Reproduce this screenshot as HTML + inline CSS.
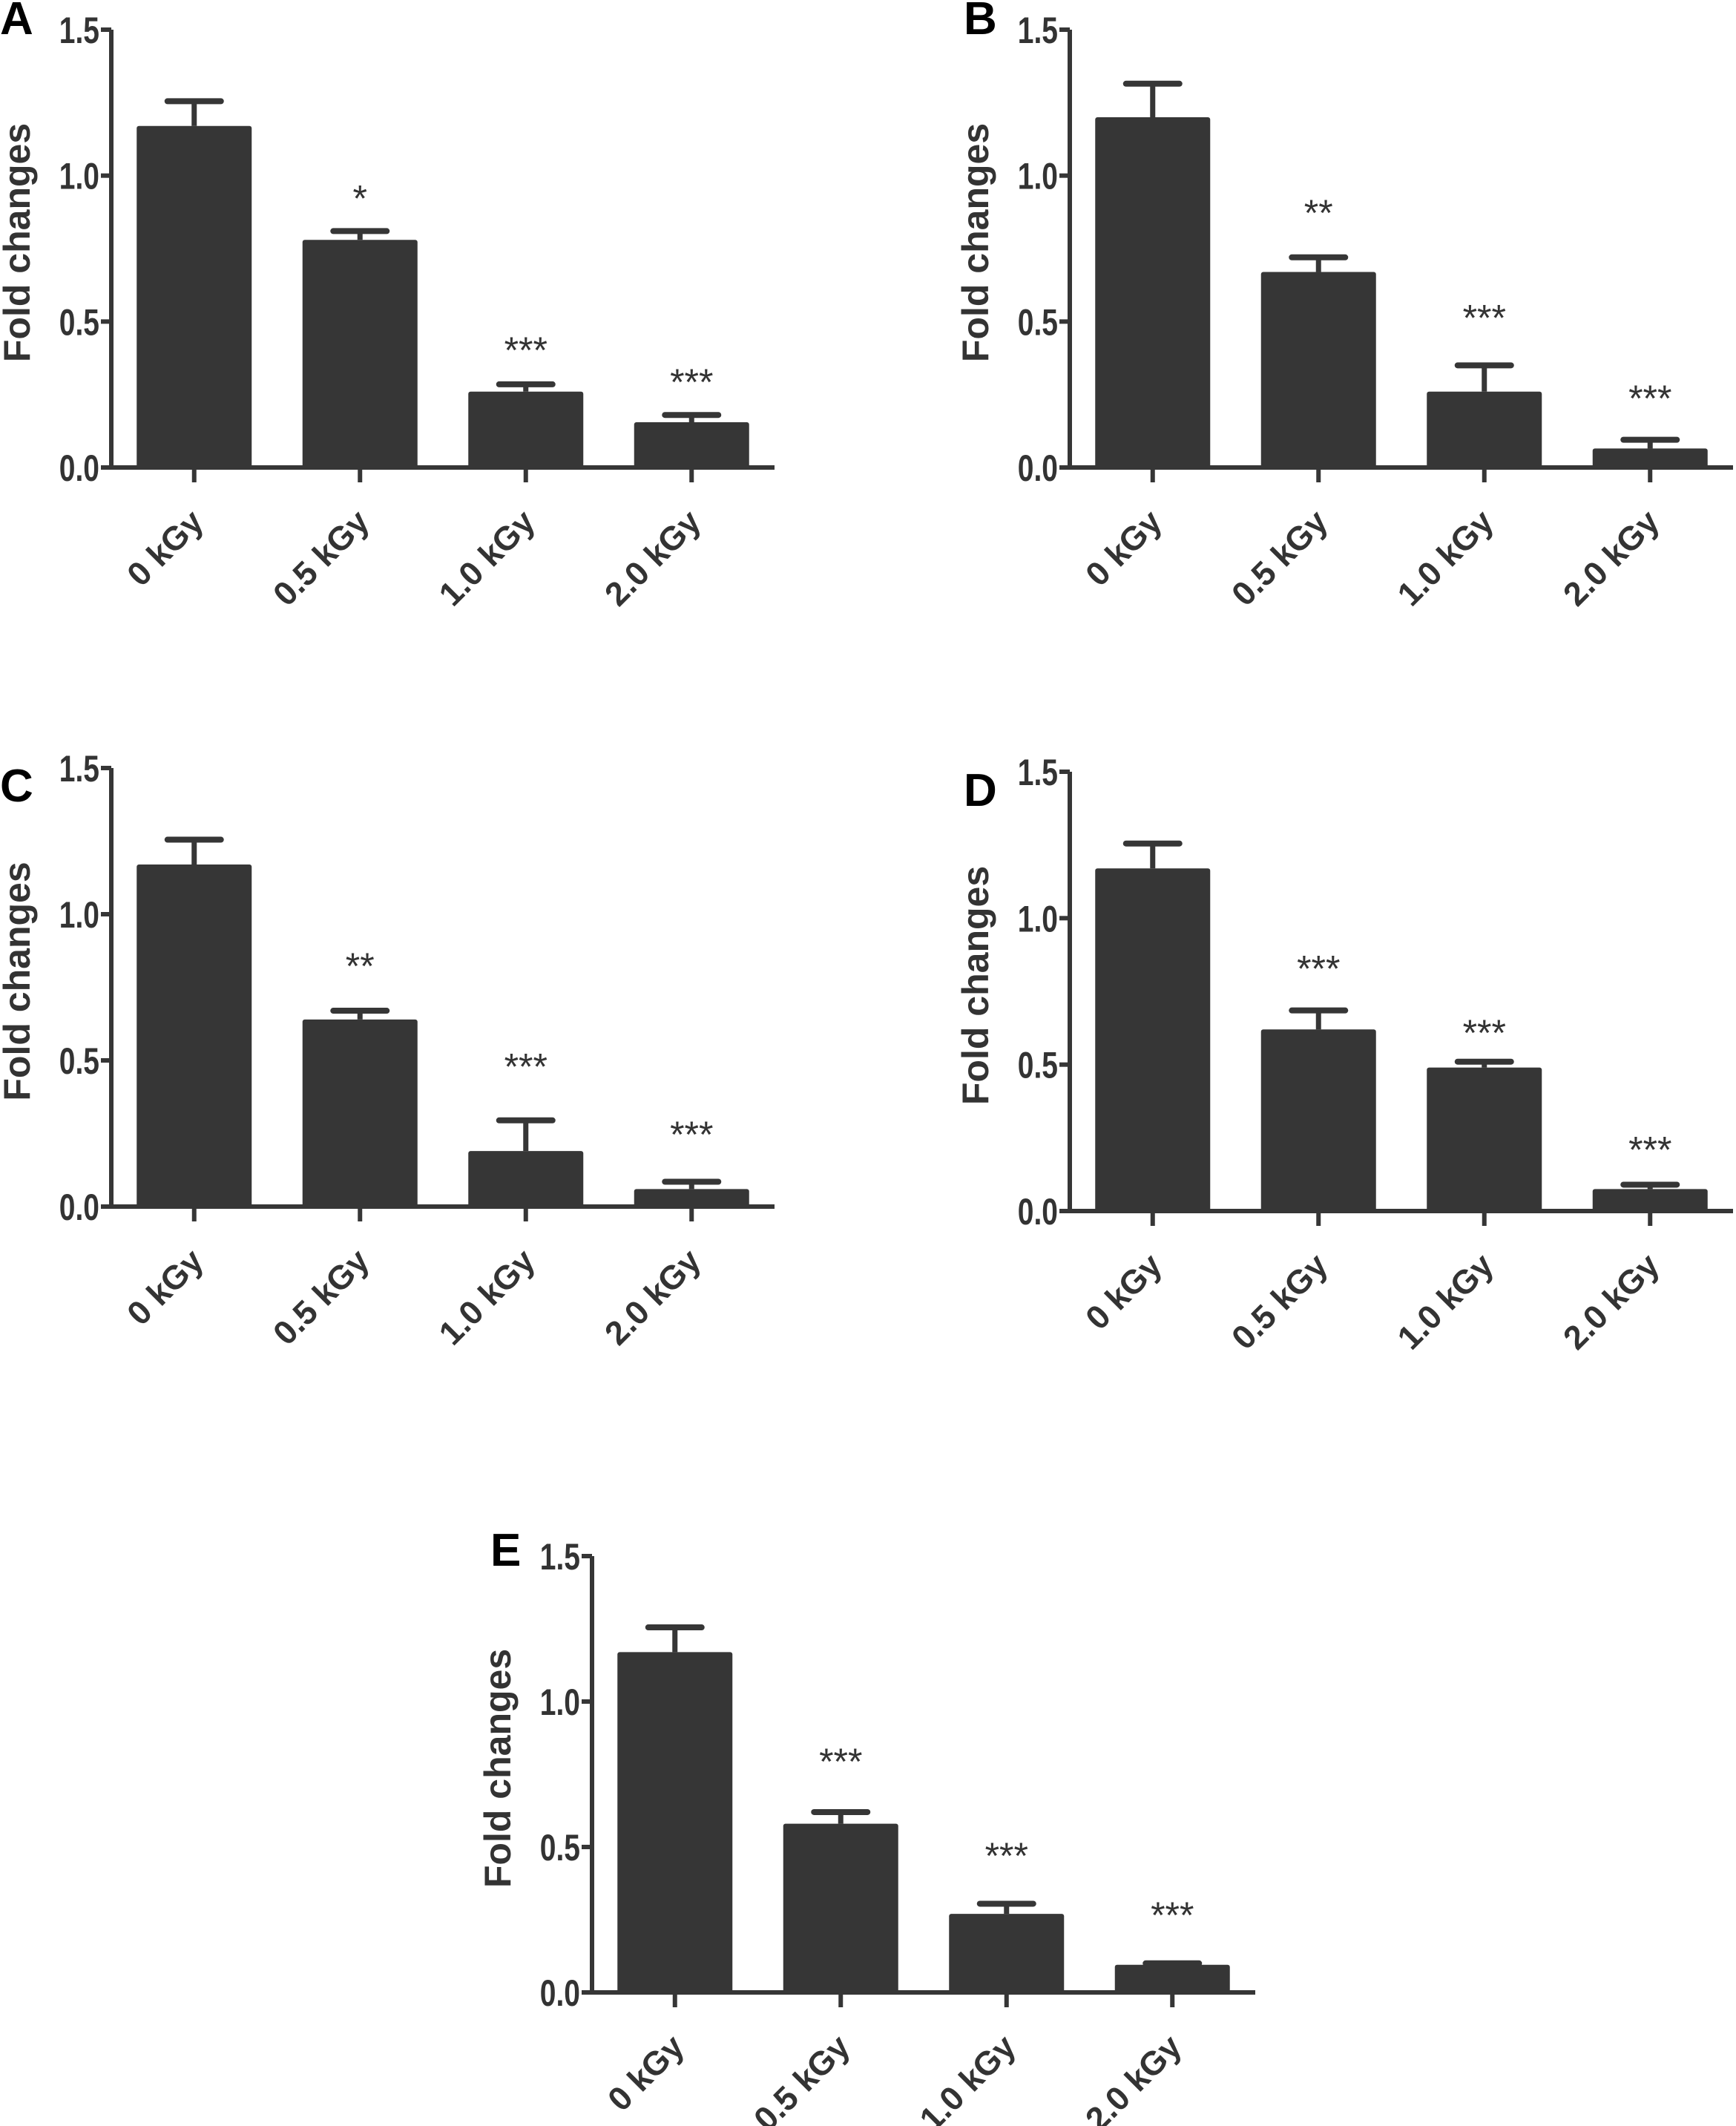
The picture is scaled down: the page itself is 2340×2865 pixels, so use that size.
<!DOCTYPE html>
<html><head><meta charset="utf-8"><style>
html,body{margin:0;padding:0;background:#fff;}
svg{display:block;}
text{font-family:"Liberation Sans",sans-serif;fill:#333;}
</style></head><body>
<svg id="fig" width="2340" height="2865" viewBox="0 0 2340 2865" xmlns="http://www.w3.org/2000/svg"></svg>
<script>
const categories = ["0 kGy","0.5 kGy","1.0 kGy","2.0 kGy"];
const yTicks = [0, 0.5, 1.0, 1.5];
const yTickLabels = ["0.0","0.5","1.0","1.5"];
const panelLetters = ["A","B","C","D","E"];
const valuesA = [1.17, 0.78, 0.26, 0.155];
const errorsA = [0.085, 0.03, 0.025, 0.025];
const starsA = ["", "*", "***", "***"];
const starYA = [0, 0.95, 0.43, 0.32];
const valuesB = [1.2, 0.67, 0.26, 0.065];
const errorsB = [0.115, 0.05, 0.09, 0.03];
const starsB = ["", "**", "***", "***"];
const starYB = [0, 0.9, 0.54, 0.265];
const valuesC = [1.17, 0.64, 0.19, 0.06];
const errorsC = [0.085, 0.03, 0.105, 0.025];
const starsC = ["", "**", "***", "***"];
const starYC = [0, 0.85, 0.506, 0.274];
const valuesD = [1.17, 0.62, 0.49, 0.075];
const errorsD = [0.085, 0.065, 0.02, 0.015];
const starsD = ["", "***", "***", "***"];
const starYD = [0, 0.855, 0.636, 0.237];
const valuesE = [1.17, 0.58, 0.27, 0.095];
const errorsE = [0.085, 0.04, 0.035, 0.005];
const starsE = ["", "***", "***", "***"];
const starYE = [0, 0.822, 0.497, 0.293];

const NS = "http://www.w3.org/2000/svg";
const svg = document.getElementById("fig");
function mk(tag, attrs, parent){
  const e = document.createElementNS(NS, tag);
  for (const k in attrs) e.setAttribute(k, attrs[k]);
  (parent||svg).appendChild(e);
  return e;
}
const C = "#363636";
function panel(key, letter, lx, ly, ax, yTop, yZero, vals, errs, stars, starY){
  const g = mk("g", {});
  
  
  const W = 894, slot = W / categories.length, bw = 155;
  const yS = v => yZero - (v / 1.5) * (yZero - yTop);
  const xS = i => ax + slot * (i + 0.5);
  const lt = mk("text", {x: lx, y: ly, "font-size": 62, "font-weight": "bold"}, g);
  lt.style.fill = "#000";
  lt.textContent = letter;
  
  
  vals.forEach((v, i) => {
    const cx = xS(i);
    const top = yS(v), et = yS(v + errs[i]);
    const el = mk("line", {x1: cx, y1: top, x2: cx, y2: et, stroke: C, "stroke-width": 7}, g);
    
    
    const cap = mk("line", {x1: cx - 36, y1: et, x2: cx + 36, y2: et, stroke: C, "stroke-width": 8, "stroke-linecap": "round"}, g);
    
    
    const r = mk("rect", {x: cx - bw/2, y: top, width: bw, height: yZero - top, fill: C, rx: 3}, g);
    
    
    if (stars[i]) {
      const s = mk("text", {x: cx, y: yS(starY[i]) + 28, "font-size": 50, "text-anchor": "middle"}, g);
      s.textContent = stars[i];
      
      
    }
    const tk = mk("line", {x1: cx, y1: yZero, x2: cx, y2: yZero + 20, stroke: C, "stroke-width": 6}, g);
    
    
    const xl = mk("text", {x: 0, y: 0, "font-size": 45, "font-weight": "bold", "text-anchor": "end",
      transform: "translate(" + (cx + 15) + "," + (yZero + 76) + ") rotate(-45)"}, g);
    xl.textContent = categories[i];
    
    
  });
  const ya = mk("line", {x1: ax, y1: yTop, x2: ax, y2: yZero + 3, stroke: C, "stroke-width": 6}, g);
  
  
  const xa = mk("line", {x1: ax - 3, y1: yZero, x2: ax + W, y2: yZero, stroke: C, "stroke-width": 6}, g);
  
  
  yTicks.forEach((t, j) => {
    const y = yS(t);
    const tk = mk("line", {x1: ax - 14, y1: y, x2: ax, y2: y, stroke: C, "stroke-width": 6}, g);
    
    
    const tl = mk("text", {x: 0, y: 0, "font-size": 50, "font-weight": "bold", "text-anchor": "end",
      transform: "translate(" + (ax - 16) + "," + (y + 18) + ") scale(0.78,1)"}, g);
    tl.textContent = yTickLabels[j];
    
    
  });
  const yt = mk("text", {x: 0, y: 0, "font-size": 50, "font-weight": "bold", "text-anchor": "middle",
    transform: "translate(" + (ax - 110) + "," + ((yTop + yZero) / 2 - 8) + ") rotate(-90)"}, g);
  yt.textContent = "Fold changes";
  
  
}
panel("a", panelLetters[0], 0, 46, 150, 40, 630, valuesA, errorsA, starsA, starYA);
panel("b", panelLetters[1], 1299, 46, 1442, 40, 630, valuesB, errorsB, starsB, starYB);
panel("c", panelLetters[2], 0, 1080, 150, 1035, 1626, valuesC, errorsC, starsC, starYC);
panel("d", panelLetters[3], 1299, 1086, 1442, 1040, 1632, valuesD, errorsD, starsD, starYD);
panel("e", panelLetters[4], 661, 2110, 798, 2097, 2685, valuesE, errorsE, starsE, starYE);
</script>
</body></html>
